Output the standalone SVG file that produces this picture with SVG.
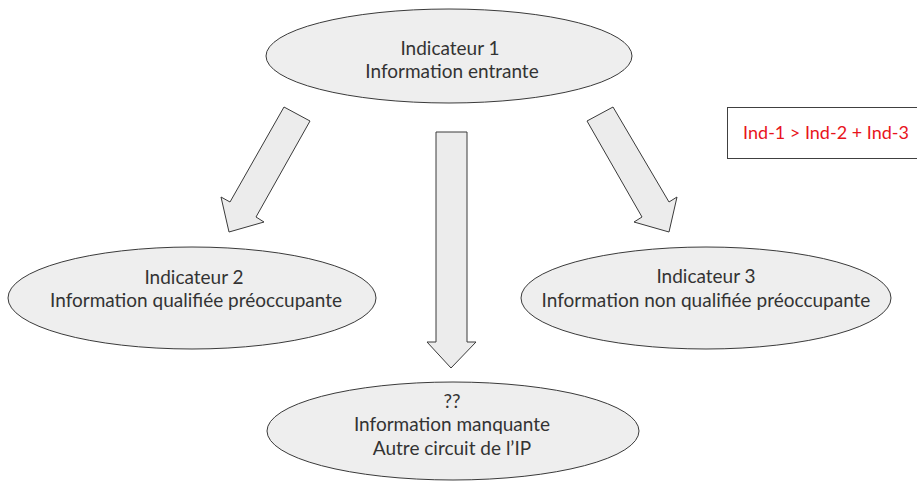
<svg xmlns="http://www.w3.org/2000/svg" width="917" height="483" viewBox="0 0 917 483">
<style>
.node ellipse{fill:#eeeeee;stroke:#3a3a3a;stroke-width:1}
.node text{font-family:Lato,"Open Sans","Liberation Sans",sans-serif;font-size:19px;fill:#333333;text-anchor:middle}
.conn polygon{fill:#ececec;stroke:#3a3a3a;stroke-width:1;stroke-linejoin:miter}
.note rect{fill:#ffffff;stroke:#404040;stroke-width:1}
.note text{font-family:Lato,"Open Sans","Liberation Sans",sans-serif;font-size:18px;fill:#e8141c;text-anchor:middle}
</style>
<rect width="917" height="483" fill="#ffffff"/>
<g id="connectors" class="conn">
<polygon points="284,107 310,121 256,217 264,222 229,232 221,197 230,202"/>
<polygon points="436,132 467,132 467,342 476,342 451,368 427,342 436,342"/>
<polygon points="613,107 587,121 642,217 634,222 669,232 677,197 669,202"/>
</g>
<g id="node1" class="node">
<ellipse cx="449" cy="56" rx="183" ry="47"/>
<text x="450" y="55">Indicateur 1</text>
<text x="452" y="78">Information entrante</text>
</g>
<g id="node2" class="node">
<ellipse cx="192" cy="298" rx="184" ry="51"/>
<text x="194" y="284">Indicateur 2</text>
<text x="196" y="307">Information qualifiée préoccupante</text>
</g>
<g id="node3" class="node">
<ellipse cx="706" cy="298" rx="185" ry="51"/>
<text x="706" y="283">Indicateur 3</text>
<text x="706" y="307">Information non qualifiée préoccupante</text>
</g>
<g id="node4" class="node">
<ellipse cx="453" cy="431" rx="186" ry="49"/>
<text x="452" y="408">??</text>
<text x="452" y="431">Information manquante</text>
<text x="452" y="455">Autre circuit de l’IP</text>
</g>
<g id="note" class="note">
<rect x="727.5" y="107.5" width="195" height="51"/>
<text x="826" y="139">Ind-1 &gt; Ind-2 + Ind-3</text>
</g>
</svg>
